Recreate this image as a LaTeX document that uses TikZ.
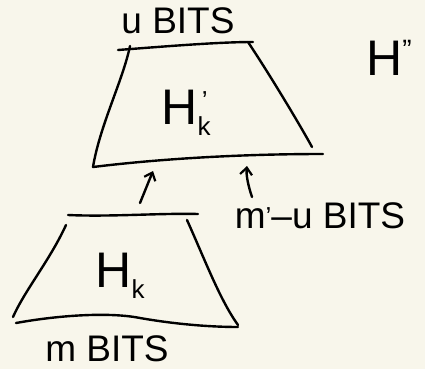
\documentclass[tikz,border=0pt]{standalone}
\usepackage{fontspec}
\setmainfont{Liberation Sans}
\usetikzlibrary{arrows.meta}
\definecolor{paper}{RGB}{248,246,235}
\tikzset{
  pen/.style={line width=2.4pt, line cap=round, line join=round, black},
  lbl/.style={inner sep=0pt, font=\fontsize{37}{40}\selectfont},
  big/.style={inner sep=0pt, font=\fontsize{50}{54}\selectfont},
  arr/.style={pen, -{Straight Barb[length=7pt,width=12pt,line width=2.2pt]}}
}
\begin{document}
\begin{tikzpicture}[x=1pt,y=-1pt]
\fill[paper] (0,0) rectangle (425,369);
\useasboundingbox (0,0) rectangle (425,369);
% upper block
\draw[pen] (118,50) .. controls (170,46) and (220,42) .. (253,42);
\draw[pen] (130,46) .. controls (123,80) and (100,125) .. (93,167);
\draw[pen] (248,42) .. controls (270,75) and (300,125) .. (312,147);
\draw[pen] (93,167) .. controls (150,160) and (230,154) .. (323,154);
\node[big] (hk1) at (186,113) {H\makebox[0pt][l]{\raisebox{0.3em}{\fontsize{26}{26}\selectfont\,'}}\raisebox{-0.22em}{\fontsize{26}{26}\selectfont k}};
\node[lbl] (nbits) at (178,21) {u BITS};
\node[big] (hpp) at (389,58) {H\raisebox{0.32em}{\fontsize{28}{28}\selectfont "}};
% lower block
\draw[pen] (68,215) .. controls (110,217) and (160,213) .. (198,214);
\draw[pen] (66,225) .. controls (50,260) and (25,290) .. (13,317);
\draw[pen] (187,220) .. controls (205,260) and (220,300) .. (238,325);
\draw[pen] (16,323) .. controls (60,315) and (110,312) .. (140,318) .. controls (180,325) and (215,327) .. (238,327);
\node[big] (hk) at (120,276) {H\raisebox{-0.22em}{\fontsize{26}{26}\selectfont k}};
\node[lbl] (mbits) at (107,349) {m BITS};
\node[lbl] (mnbits) at (320,216) {m\raisebox{0.1em}{\fontsize{26}{26}\selectfont '}–u BITS};
% arrows
\coordinate (a1s) at (140,203);
\coordinate (a1e) at (153,171);
\coordinate (a2s) at (252,197);
\coordinate (a2e) at (247,166);
\draw[arr] (a1s) -- (a1e);
\draw[arr] (a2s) .. controls (248,185) and (246,175) .. (a2e);
\end{tikzpicture}
\end{document}
